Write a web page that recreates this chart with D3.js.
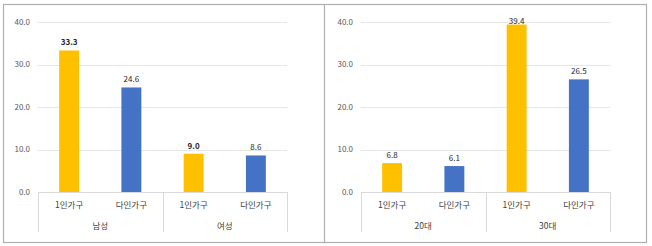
<!DOCTYPE html>
<html>
<head>
<meta charset="utf-8">
<script src="https://cdn.jsdelivr.net/npm/d3@7"></script>
<style>
  body { margin: 0; background: #fff; }
  text { font-family: "Noto Sans CJK KR", "Noto Sans", sans-serif; }
</style>
</head>
<body>
<svg id="chart" width="652" height="246"></svg>
<script>
const households = ["1인가구", "다인가구"];
const genderGroups = ["남성", "여성"];
const genderSingle = [33.3, 9.0];
const genderMulti = [24.6, 8.6];
const ageGroups = ["20대", "30대"];
const ageSingle = [6.8, 39.4];
const ageMulti = [6.1, 26.5];
const yTicks = [0, 10, 20, 30, 40];

const colors = { "1인가구": "#FFC000", "다인가구": "#4472C4" };

const svg = d3.select("#chart");

// outer frame + divider
svg.append("rect")
  .attr("x", 3.5).attr("y", 4.5)
  .attr("width", 643).attr("height", 238)
  .attr("fill", "none").attr("stroke", "#b0b0b0").attr("stroke-width", 1.2);
svg.append("line")
  .attr("x1", 324.5).attr("x2", 324.5).attr("y1", 4.5).attr("y2", 242.5)
  .attr("stroke", "#b0b0b0").attr("stroke-width", 1.2);

function buildRows(groups, single, multi) {
  const rows = [];
  groups.forEach((g, i) => {
    rows.push({ group: g, kind: households[0], value: single[i] });
    rows.push({ group: g, kind: households[1], value: multi[i] });
  });
  return rows;
}

function drawPanel(x0, x1, groups, rows, boldSingle) {
  const y = d3.scaleLinear().domain([0, 40]).range([192, 22]);
  const outer = d3.scaleBand().domain(groups).range([x0, x1]).padding(0);
  const inner = d3.scaleBand().domain(households).range([0, outer.bandwidth()])
    .paddingInner(0.68).paddingOuter(0.34);

  const g = svg.append("g");

  // gridlines
  g.selectAll(".grid").data(yTicks.filter(d => d > 0)).enter().append("line")
    .attr("x1", x0).attr("x2", x1)
    .attr("y1", d => Math.round(y(d)) + 0.5).attr("y2", d => Math.round(y(d)) + 0.5)
    .attr("stroke", "#e6e6e6").attr("stroke-width", 1);

  // y tick labels
  g.selectAll(".ytick").data(yTicks).enter().append("text")
    .attr("x", x0 - 8)
    .attr("y", d => y(d))
    .attr("dy", "0.35em")
    .attr("text-anchor", "end")
    .style("font-size", "8px")
    .attr("fill", "#595959")
    .text(d => d.toFixed(1));

  // bars
  g.selectAll(".bar").data(rows).enter().append("rect")
    .attr("x", d => outer(d.group) + inner(d.kind))
    .attr("y", d => y(d.value))
    .attr("width", inner.bandwidth())
    .attr("height", d => y(0) - y(d.value))
    .attr("fill", d => colors[d.kind]);

  // value labels
  g.selectAll(".val").data(rows).enter().append("text")
    .attr("x", d => outer(d.group) + inner(d.kind) + inner.bandwidth() / 2)
    .attr("y", d => Math.max(y(d.value) - 8, y(40) - 1))
    .attr("dy", "0.35em")
    .attr("text-anchor", "middle")
    .style("font-size", "8px")
    .style("font-weight", d => boldSingle && d.kind === households[0] ? "bold" : "normal")
    .attr("fill", "#262626")
    .text(d => d.value.toFixed(1));

  // category axis
  g.append("line")
    .attr("x1", x0).attr("x2", x1).attr("y1", y(0) + 0.5).attr("y2", y(0) + 0.5)
    .attr("stroke", "#d9d9d9");
  const seps = groups.map(d => outer(d)).concat([x1]);
  g.selectAll(".sep").data(seps).enter().append("line")
    .attr("x1", d => Math.round(d) + 0.5).attr("x2", d => Math.round(d) + 0.5)
    .attr("y1", y(0)).attr("y2", 232)
    .attr("stroke", "#d9d9d9");

  g.selectAll(".cat").data(rows).enter().append("text")
    .attr("x", d => outer(d.group) + inner(d.kind) + inner.bandwidth() / 2)
    .attr("y", 205)
    .attr("dy", "0.35em")
    .attr("text-anchor", "middle")
    .style("font-size", "8.5px")
    .attr("fill", "#404040")
    .text(d => d.kind);

  g.selectAll(".grp").data(groups).enter().append("text")
    .attr("x", d => outer(d) + outer.bandwidth() / 2)
    .attr("y", 226)
    .attr("dy", "0.35em")
    .attr("text-anchor", "middle")
    .style("font-size", "8.5px")
    .attr("fill", "#404040")
    .text(d => d);
}

drawPanel(38, 287, genderGroups, buildRows(genderGroups, genderSingle, genderMulti), true);
drawPanel(361, 610, ageGroups, buildRows(ageGroups, ageSingle, ageMulti), false);
</script>
</body>
</html>
